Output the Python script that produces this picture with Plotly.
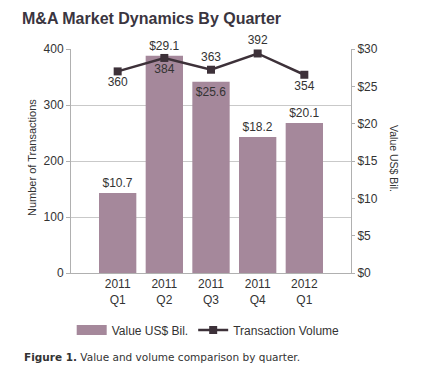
import plotly.graph_objects as go

quarters = ["2011<br>Q1", "2011<br>Q2", "2011<br>Q3", "2011<br>Q4", "2012<br>Q1"]
value_bil = [10.7, 29.1, 25.6, 18.2, 20.1]
volume = [360, 384, 363, 392, 354]
value_labels = ["$10.7", "$29.1", "$25.6", "$18.2", "$20.1"]
value_text_pos = ["outside", "outside", "inside", "outside", "outside"]
volume_text_pos = ["bottom center", "bottom center", "top center", "top center", "bottom center"]

BAR = "#a5889b"
LINE = "#3d3139"
TXT = "#333333"
GRID = "#c9c9c9"
FONT = "Liberation Sans, Arial, sans-serif"

fig = go.Figure()
fig.add_trace(go.Bar(
    x=quarters, y=value_bil, name="Value US$ Bil.",
    marker=dict(color=BAR, line=dict(width=0)),
    width=0.8, showlegend=False,
    text=value_labels, textposition=value_text_pos,
    insidetextanchor="end", constraintext="none", cliponaxis=False,
    textfont=dict(family=FONT, size=12, color=TXT),
    insidetextfont=dict(family=FONT, size=12, color=TXT),
    outsidetextfont=dict(family=FONT, size=12, color=TXT),
    yaxis="y", hoverinfo="skip",
))
# legend-only entry for the bar series (wide swatch like the reference)
fig.add_trace(go.Scatter(
    x=[None], y=[None], name="Value US$ Bil.", mode="lines",
    line=dict(color=BAR, width=12), yaxis="y", showlegend=True,
))
fig.add_trace(go.Scatter(
    x=quarters, y=volume, name="Transaction Volume",
    mode="lines+markers+text",
    line=dict(color=LINE, width=2.5),
    marker=dict(symbol="square", size=8, color=LINE),
    text=[str(v) for v in volume], textposition=volume_text_pos,
    textfont=dict(family=FONT, size=12, color=TXT),
    cliponaxis=False, yaxis="y2",
))

fig.update_layout(
    width=422, height=390,
    margin=dict(l=71, r=71, t=49, b=117),
    paper_bgcolor="white", plot_bgcolor="white",
    font=dict(family=FONT, size=12, color=TXT),
    showlegend=True,
    legend=dict(orientation="h", x=0.49, xanchor="center", y=-0.254, yanchor="middle",
                font=dict(size=12, color=TXT), traceorder="normal", itemwidth=30),
    title=dict(text="<b>M&A Market Dynamics By Quarter</b>", xref="container", x=22/422,
               xanchor="left", yref="container", y=1 - 18/390, yanchor="middle",
               font=dict(family=FONT, size=16, color="#3a3540")),
    xaxis=dict(type="category", range=[-1, 5], showgrid=False, showline=True,
               linecolor="#b0b0b0", linewidth=1, ticks="", tickfont=dict(size=12, color=TXT),
               zeroline=False),
    yaxis=dict(range=[0, 30], side="right", dtick=5, tickprefix="$", showgrid=False,
               showline=True, linecolor="#b0b0b0", linewidth=1, ticks="outside",
               ticklen=3, tickcolor="#b0b0b0", zeroline=False,
               tickfont=dict(size=12, color=TXT)),
    yaxis2=dict(range=[0, 400], side="left", overlaying="y", dtick=100, showgrid=True,
                gridcolor=GRID, gridwidth=1, showline=True, linecolor="#b0b0b0",
                linewidth=1, ticks="outside", ticklen=4, tickcolor="#b0b0b0",
                zeroline=False, tickfont=dict(size=12, color=TXT)),
    annotations=[
        dict(text="Number of Transactions", xref="paper", yref="paper",
             x=(32 - 71) / 280, y=(273 - 158) / 224, textangle=-90, showarrow=False,
             xanchor="center", yanchor="middle", font=dict(size=11, color=TXT)),
        dict(text="Value US$ Bil.", xref="paper", yref="paper",
             x=(394 - 71) / 280, y=(273 - 158) / 224, textangle=90, showarrow=False,
             xanchor="center", yanchor="middle", font=dict(size=10.5, color=TXT)),
        dict(text="<b>Figure 1.</b> Value and volume comparison by quarter.",
             xref="paper", yref="paper", x=(22 - 71) / 280, y=(273 - 357) / 224,
             xanchor="left", yanchor="middle", showarrow=False,
             font=dict(family="DejaVu Sans, Verdana, sans-serif", size=10.5, color="#333333")),
    ],
)

fig.write_html("out.html", config={"displayModeBar": False},
               post_script="document.body.style.margin='0';document.body.style.overflow='hidden';")
